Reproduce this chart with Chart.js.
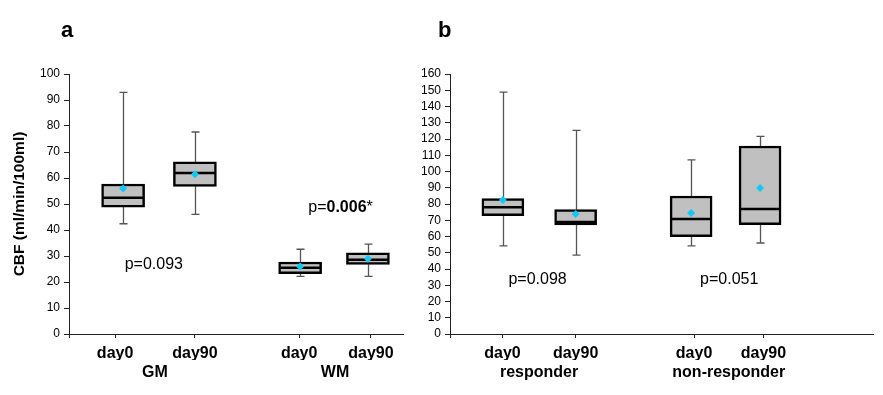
<!DOCTYPE html>
<html>
<head>
<meta charset="utf-8">
<script src="https://cdn.jsdelivr.net/npm/chart.js@4.4.1/dist/chart.umd.min.js"></script>
<style>
  body { margin:0; background:#fff; width:883px; height:395px; overflow:hidden; position:relative;
         font-family:"Liberation Sans", Arial, sans-serif; }
  canvas { position:absolute; top:0; }
  #cA { left:0; }
  #cB { left:420px; }
  .panel { position:absolute; font-weight:bold; font-size:22px; color:#000; }
</style>
</head>
<body>
<canvas id="cA" width="420" height="395"></canvas>
<canvas id="cB" width="463" height="395"></canvas>
<div class="panel" style="left:61px;top:17px">a</div>
<div class="panel" style="left:438px;top:17px">b</div>
<script>
Chart.defaults.font.family = '"Liberation Sans", Arial, sans-serif';
Chart.defaults.color = "#000";

// ---- panel a data (GM / WM) ----
const catsA   = ["day0", "day90", "day0", "day90"];
const groupsA = ["GM", "WM"];
const loA   = [42.4, 46.0, 22.2, 22.2];
const q1A   = [48.8, 56.8, 23.2, 26.8];
const medA  = [52.4, 61.9, 25.5, 28.6];
const q3A   = [57.7, 66.2, 27.7, 31.2];
const hiA   = [92.9, 77.7, 32.6, 34.6];
const meanA = [56.0, 61.4, 26.0, 28.9];

// ---- panel b data (responder / non-responder) ----
const catsB   = ["day0", "day90", "day0", "day90"];
const groupsB = ["responder", "non-responder"];
const loB   = [54.2, 48.6, 54.2, 56.0];
const q1B   = [72.8, 67.1, 59.9, 67.3];
const medB  = [78.0, 68.9, 70.8, 76.9];
const q3B   = [83.3, 76.5, 84.9, 115.7];
const hiB   = [148.9, 125.3, 107.1, 121.6];
const meanB = [82.5, 73.8, 74.5, 89.8];

// layout on the x axis (0..10 units)
const boxXA  = [1.62, 3.77, 6.92, 8.95];
const tickXA = [1.38, 3.77, 6.89, 9.04];
const boxXB  = [1.25, 2.97, 5.70, 7.33];
const tickXB = [1.24, 2.97, 5.77, 7.41];

const AXIS = "#222";

function boxExtras(cfg) {
  return {
    id: "boxExtras",
    beforeDatasetsDraw(chart) {
      const { ctx, scales: { x, y } } = chart;
      ctx.save();
      ctx.strokeStyle = "#555";
      ctx.lineWidth = 1.3;
      cfg.pos.forEach((p, i) => {
        const px = Math.round(x.getPixelForValue(p)) + 0.5;
        const yh = y.getPixelForValue(cfg.hi[i]), y3 = y.getPixelForValue(cfg.q3[i]);
        const yl = y.getPixelForValue(cfg.lo[i]), y1 = y.getPixelForValue(cfg.q1[i]);
        ctx.beginPath();
        ctx.moveTo(px, yh); ctx.lineTo(px, y3);
        ctx.moveTo(px, y1); ctx.lineTo(px, yl);
        ctx.moveTo(px - 4, yh); ctx.lineTo(px + 4, yh);
        ctx.moveTo(px - 4, yl); ctx.lineTo(px + 4, yl);
        ctx.stroke();
      });
      ctx.restore();
    },
    afterDatasetDraw(chart, args) {
      if (args.meta.type !== "bar") return;
      const { ctx, scales: { y } } = chart;
      ctx.save();
      ctx.strokeStyle = "#000";
      ctx.lineWidth = 2.5;
      args.meta.data.forEach((bar, i) => {
        const py = y.getPixelForValue(cfg.med[i]);
        ctx.beginPath();
        ctx.moveTo(bar.x - bar.width / 2 + 1, py);
        ctx.lineTo(bar.x + bar.width / 2 - 1, py);
        ctx.stroke();
      });
      ctx.restore();
    },
    afterDraw(chart) {
      const { ctx, scales: { x, y } } = chart;
      ctx.save();
      ctx.textBaseline = "middle";
      ctx.fillStyle = "#000";
      cfg.notes.forEach(n => {
        const fonts = n.parts.map(pt => (pt.b ? "bold " : "") + "16px 'Liberation Sans', Arial, sans-serif");
        let w = 0;
        n.parts.forEach((pt, k) => { ctx.font = fonts[k]; w += ctx.measureText(pt.t).width; });
        let cx = x.getPixelForValue(n.x) - w / 2;
        const cy = y.getPixelForValue(n.y);
        n.parts.forEach((pt, k) => {
          ctx.font = fonts[k];
          ctx.fillText(pt.t, cx, cy);
          cx += ctx.measureText(pt.t).width;
        });
      });
      ctx.restore();
    }
  };
}

function makeChart(id, d) {
  const tickVals = [0].concat(d.ticks);
  const mids = [ (d.ticks[0] + d.ticks[1]) / 2, (d.ticks[2] + d.ticks[3]) / 2 ];
  return new Chart(document.getElementById(id), {
    type: "bar",
    data: {
      datasets: [
        {
          type: "scatter",
          data: d.mean.map((m, i) => ({ x: d.pos[i], y: m })),
          pointStyle: "rectRot",
          pointRadius: 4,
          backgroundColor: "#10c8f8",
          borderWidth: 0,
          order: 0
        },
        {
          type: "bar",
          data: d.pos.map((p, i) => ({ x: p, y: [d.q1[i], d.q3[i]] })),
          backgroundColor: "#c0c0c0",
          borderColor: "#000",
          borderWidth: 2.5,
          borderSkipped: false,
          barThickness: d.barW,
          order: 1
        }
      ]
    },
    options: {
      responsive: false,
      animation: false,
      devicePixelRatio: 1,
      layout: { padding: d.padding },
      plugins: { legend: { display: false }, tooltip: { enabled: false } },
      scales: {
        x: {
          type: "linear", min: 0, max: 10, offset: false,
          grid: { drawOnChartArea: false, offset: false, tickLength: 4, color: AXIS },
          border: { color: AXIS },
          afterBuildTicks: s => { s.ticks = tickVals.map(v => ({ value: v })); },
          afterFit: s => { s.height = 26; },
          ticks: {
            autoSkip: false, maxRotation: 0, padding: 6,
            font: { size: 16, weight: "bold" },
            callback: v => { const k = d.ticks.indexOf(v); return k < 0 ? "" : d.cats[k]; }
          }
        },
        x2: {
          type: "linear", position: "bottom", min: 0, max: 10, offset: false,
          grid: { display: false, drawTicks: false },
          border: { display: false },
          afterBuildTicks: s => { s.ticks = mids.map(v => ({ value: v })); },
          afterFit: s => { s.height = 30; },
          ticks: {
            autoSkip: false, maxRotation: 0, padding: 3,
            font: { size: 16, weight: "bold" },
            callback: v => d.groups[mids.indexOf(v)]
          }
        },
        y: {
          min: 0, max: d.yMax,
          grid: { drawOnChartArea: false, tickLength: 5, color: AXIS },
          border: { color: AXIS },
          afterFit: s => { s.width = d.yW; },
          ticks: { stepSize: 10, autoSkip: false, padding: 4, font: { size: 12 } },
          title: {
            display: !!d.yTitle, text: d.yTitle || "",
            font: { size: 15.5, weight: "bold" },
            padding: { top: 10, bottom: 0 }
          }
        }
      }
    },
    plugins: [boxExtras(d)]
  });
}

makeChart("cA", {
  cats: catsA, groups: groupsA, lo: loA, q1: q1A, med: medA, q3: q3A, hi: hiA, mean: meanA,
  pos: boxXA, ticks: tickXA, yMax: 100, yW: 69, barW: 43,
  yTitle: "CBF (ml/min/100ml)",
  padding: { left: 0, top: 74, right: 17, bottom: 5 },
  notes: [
    { x: 2.54, y: 26.8, parts: [{ t: "p=0.093" }] },
    { x: 8.13, y: 48.8, parts: [{ t: "p=" }, { t: "0.006", b: true }, { t: "*" }] }
  ]
});

makeChart("cB", {
  cats: catsB, groups: groupsB, lo: loB, q1: q1B, med: medB, q3: q3B, hi: hiB, mean: meanB,
  pos: boxXB, ticks: tickXB, yMax: 160, yW: 30, barW: 42,
  padding: { left: 0, top: 74, right: 10, bottom: 5 },
  notes: [
    { x: 2.07, y: 33.2, parts: [{ t: "p=0.098" }] },
    { x: 6.60, y: 33.2, parts: [{ t: "p=0.051" }] }
  ]
});
</script>
</body>
</html>
